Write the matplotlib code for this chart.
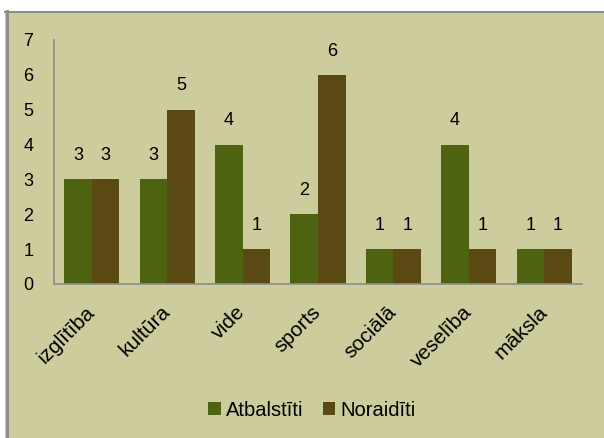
import matplotlib
matplotlib.use("Agg")
import matplotlib.pyplot as plt
from matplotlib.patches import Rectangle
from matplotlib.lines import Line2D
import numpy as np

categories = ["izglītība", "kultūra", "vide", "sports", "sociālā", "veselība", "māksla"]
atbalstiti = [3, 3, 4, 2, 1, 4, 1]
noraiditi = [3, 5, 1, 6, 1, 1, 1]
series_names = ["Atbalstīti", "Noraidīti"]
yticks = [0, 1, 2, 3, 4, 5, 6, 7]

BG = "#CCCC9C"
GREEN = "#4D6310"
BROWN = "#5A4913"
GRAY = "#8C8C8C"

plt.rcParams["font.family"] = ["Liberation Sans", "DejaVu Sans"]

W, H = 604, 438
fig = plt.figure(figsize=(W / 100, H / 100), dpi=100)
fig.patch.set_facecolor("white")

# background panel and border
fig.patches.append(Rectangle((5 / W, 0), 1 - 5 / W, 1 - 11 / H, transform=fig.transFigure,
                             facecolor=BG, edgecolor="none", zorder=-10))
fig.lines.append(Line2D([5 / W, 1], [1 - 11.5 / H, 1 - 11.5 / H], transform=fig.transFigure,
                        color=GRAY, linewidth=1.5, zorder=-5))
fig.lines.append(Line2D([6.5 / W, 6.5 / W], [0, 1 - 11 / H], transform=fig.transFigure,
                        color=GRAY, linewidth=2.2, zorder=-5))

ax = fig.add_axes([54 / W, 1 - 284 / H, (582 - 54) / W, (284 - 40) / H])
ax.set_facecolor("none")
ax.set_zorder(5)

x = np.arange(len(categories))
bw = 0.365
b1 = ax.bar(x - bw / 2, atbalstiti, bw, color=GREEN, label=series_names[0])
b2 = ax.bar(x + bw / 2, noraiditi, bw, color=BROWN, label=series_names[1])

for bars, vals in ((b1, atbalstiti), (b2, noraiditi)):
    for r, v in zip(bars, vals):
        ax.annotate(str(v), (r.get_x() + r.get_width() / 2, v), xytext=(0, 11),
                    textcoords="offset points", ha="center", va="bottom", fontsize=13)

ax.set_xlim(-0.5, len(categories) - 0.5)
ax.set_ylim(0, 7)
ax.set_yticks(yticks)
ax.set_yticklabels([str(t) for t in yticks], fontsize=13)
ax.tick_params(axis="y", length=0, pad=15)
ax.set_xticks(x)
ax.set_xticklabels(categories, fontsize=15, rotation=45, ha="right", va="center",
                   rotation_mode="anchor")
ax.tick_params(axis="x", length=0, pad=18)

for s in ("top", "right"):
    ax.spines[s].set_visible(False)
for s in ("left", "bottom"):
    ax.spines[s].set_color(GRAY)
    ax.spines[s].set_linewidth(1.2)

leg = fig.legend(handles=[b1, b2], labels=series_names, loc="center",
                 bbox_to_anchor=(312 / W, 1 - 410 / H), ncol=2, frameon=False,
                 fontsize=14.5, handlelength=0.6, handleheight=0.6, handletextpad=0.25,
                 columnspacing=1.0)

fig.savefig("out.png", dpi=100, facecolor=fig.get_facecolor())
